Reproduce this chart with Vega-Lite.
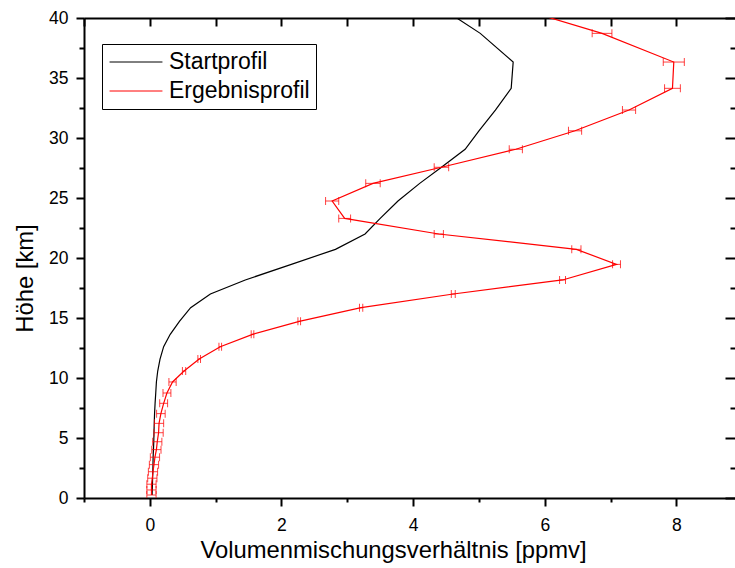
{
  "$schema": "https://vega.github.io/schema/vega-lite/v6.json",
  "width": 651,
  "height": 480,
  "autosize": {"type": "none"},
  "padding": {"left": 84, "top": 18, "right": 0, "bottom": 70},
  "background": "white",
  "config": {
    "view": {"stroke": null},
    "font": "Liberation Sans"
  },
  "data": {
    "values": [
      {"series": "Startprofil", "h": 0.25, "v": 0.035, "err": null},
      {"series": "Startprofil", "h": 0.67, "v": 0.037, "err": null},
      {"series": "Startprofil", "h": 1.15, "v": 0.04, "err": null},
      {"series": "Startprofil", "h": 1.65, "v": 0.042, "err": null},
      {"series": "Startprofil", "h": 2.19, "v": 0.045, "err": null},
      {"series": "Startprofil", "h": 2.78, "v": 0.048, "err": null},
      {"series": "Startprofil", "h": 3.4, "v": 0.05, "err": null},
      {"series": "Startprofil", "h": 4.03, "v": 0.055, "err": null},
      {"series": "Startprofil", "h": 4.69, "v": 0.06, "err": null},
      {"series": "Startprofil", "h": 5.44, "v": 0.063, "err": null},
      {"series": "Startprofil", "h": 6.22, "v": 0.067, "err": null},
      {"series": "Startprofil", "h": 7.03, "v": 0.072, "err": null},
      {"series": "Startprofil", "h": 7.89, "v": 0.08, "err": null},
      {"series": "Startprofil", "h": 8.75, "v": 0.09, "err": null},
      {"series": "Startprofil", "h": 9.67, "v": 0.1, "err": null},
      {"series": "Startprofil", "h": 10.58, "v": 0.12, "err": null},
      {"series": "Startprofil", "h": 11.58, "v": 0.155, "err": null},
      {"series": "Startprofil", "h": 12.61, "v": 0.21, "err": null},
      {"series": "Startprofil", "h": 13.64, "v": 0.31, "err": null},
      {"series": "Startprofil", "h": 14.72, "v": 0.45, "err": null},
      {"series": "Startprofil", "h": 15.86, "v": 0.62, "err": null},
      {"series": "Startprofil", "h": 17.0, "v": 0.92, "err": null},
      {"series": "Startprofil", "h": 18.17, "v": 1.45, "err": null},
      {"series": "Startprofil", "h": 19.47, "v": 2.15, "err": null},
      {"series": "Startprofil", "h": 20.72, "v": 2.82, "err": null},
      {"series": "Startprofil", "h": 22.0, "v": 3.27, "err": null},
      {"series": "Startprofil", "h": 23.3, "v": 3.5, "err": null},
      {"series": "Startprofil", "h": 24.75, "v": 3.77, "err": null},
      {"series": "Startprofil", "h": 26.22, "v": 4.1, "err": null},
      {"series": "Startprofil", "h": 27.56, "v": 4.43, "err": null},
      {"series": "Startprofil", "h": 29.06, "v": 4.79, "err": null},
      {"series": "Startprofil", "h": 30.6, "v": 5.0, "err": null},
      {"series": "Startprofil", "h": 32.33, "v": 5.25, "err": null},
      {"series": "Startprofil", "h": 34.14, "v": 5.49, "err": null},
      {"series": "Startprofil", "h": 36.33, "v": 5.52, "err": null},
      {"series": "Startprofil", "h": 38.72, "v": 5.02, "err": null},
      {"series": "Startprofil", "h": 41.3, "v": 4.3, "err": null},
      {"series": "Ergebnisprofil", "h": 0.25, "v": 0.025, "err": 0.07},
      {"series": "Ergebnisprofil", "h": 0.67, "v": 0.025, "err": 0.07},
      {"series": "Ergebnisprofil", "h": 1.15, "v": 0.025, "err": 0.07},
      {"series": "Ergebnisprofil", "h": 1.65, "v": 0.038, "err": 0.07},
      {"series": "Ergebnisprofil", "h": 2.19, "v": 0.048, "err": 0.07},
      {"series": "Ergebnisprofil", "h": 2.78, "v": 0.063, "err": 0.07},
      {"series": "Ergebnisprofil", "h": 3.4, "v": 0.078, "err": 0.07},
      {"series": "Ergebnisprofil", "h": 4.03, "v": 0.1, "err": 0.07},
      {"series": "Ergebnisprofil", "h": 4.69, "v": 0.113, "err": 0.07},
      {"series": "Ergebnisprofil", "h": 5.44, "v": 0.133, "err": 0.07},
      {"series": "Ergebnisprofil", "h": 6.22, "v": 0.14, "err": 0.07},
      {"series": "Ergebnisprofil", "h": 7.03, "v": 0.168, "err": 0.065},
      {"series": "Ergebnisprofil", "h": 7.89, "v": 0.21, "err": 0.06},
      {"series": "Ergebnisprofil", "h": 8.75, "v": 0.26, "err": 0.06},
      {"series": "Ergebnisprofil", "h": 9.67, "v": 0.345, "err": 0.055},
      {"series": "Ergebnisprofil", "h": 10.58, "v": 0.52, "err": 0.025},
      {"series": "Ergebnisprofil", "h": 11.58, "v": 0.75, "err": 0.02},
      {"series": "Ergebnisprofil", "h": 12.61, "v": 1.07, "err": 0.02},
      {"series": "Ergebnisprofil", "h": 13.64, "v": 1.56, "err": 0.02},
      {"series": "Ergebnisprofil", "h": 14.72, "v": 2.27, "err": 0.02},
      {"series": "Ergebnisprofil", "h": 15.86, "v": 3.21, "err": 0.025},
      {"series": "Ergebnisprofil", "h": 17.0, "v": 4.61, "err": 0.03},
      {"series": "Ergebnisprofil", "h": 18.17, "v": 6.27, "err": 0.045},
      {"series": "Ergebnisprofil", "h": 19.47, "v": 7.09, "err": 0.06},
      {"series": "Ergebnisprofil", "h": 20.72, "v": 6.48, "err": 0.07},
      {"series": "Ergebnisprofil", "h": 22.0, "v": 4.39, "err": 0.07},
      {"series": "Ergebnisprofil", "h": 23.3, "v": 2.96, "err": 0.09},
      {"series": "Ergebnisprofil", "h": 24.75, "v": 2.77, "err": 0.1},
      {"series": "Ergebnisprofil", "h": 26.22, "v": 3.39, "err": 0.11},
      {"series": "Ergebnisprofil", "h": 27.56, "v": 4.43, "err": 0.11},
      {"series": "Ergebnisprofil", "h": 29.06, "v": 5.56, "err": 0.1},
      {"series": "Ergebnisprofil", "h": 30.6, "v": 6.46, "err": 0.1},
      {"series": "Ergebnisprofil", "h": 32.33, "v": 7.28, "err": 0.1},
      {"series": "Ergebnisprofil", "h": 34.14, "v": 7.94, "err": 0.12},
      {"series": "Ergebnisprofil", "h": 36.33, "v": 7.96, "err": 0.16},
      {"series": "Ergebnisprofil", "h": 38.72, "v": 6.87, "err": 0.15},
      {"series": "Ergebnisprofil", "h": 41.3, "v": 5.3, "err": null}
    ]
  },
  "resolve": {"axis": {"x": "independent", "y": "independent"}},
  "layer": [
    {
      "mark": {"type": "line", "clip": true, "strokeWidth": 1.2},
      "encoding": {
        "x": {
          "field": "v", "type": "quantitative",
          "scale": {"domain": [-1, 8.89], "nice": false, "zero": false},
          "axis": {
            "orient": "bottom",
            "values": [-1, 0, 1, 2, 3, 4, 5, 6, 7, 8],
            "labelExpr": "datum.value % 2 === 0 ? datum.label : ''",
            "tickSize": {"condition": {"test": "datum.value % 2 === 0", "value": 8}, "value": 4},
            "tickWidth": 2, "tickColor": "black",
            "domainWidth": 2, "domainColor": "black",
            "grid": false,
            "labelFont": "Liberation Sans", "labelFontSize": 17.5, "labelColor": "black",
            "labelPadding": 10,
            "labelFlush": false, "labelOverlap": false,
            "title": "Volumenmischungsverhältnis [ppmv]",
            "titleFont": "Liberation Sans", "titleFontSize": 23.8, "titleFontWeight": "normal", "titleColor": "black",
            "titleX": 309, "titleY": 59, "titleBaseline": "alphabetic", "titleAlign": "center"
          }
        },
        "y": {
          "field": "h", "type": "quantitative",
          "scale": {"domain": [0, 40], "nice": false},
          "axis": {
            "orient": "left",
            "values": [0, 2.5, 5, 7.5, 10, 12.5, 15, 17.5, 20, 22.5, 25, 27.5, 30, 32.5, 35, 37.5, 40],
            "labelExpr": "datum.value % 5 === 0 ? datum.label : ''",
            "tickSize": {"condition": {"test": "datum.value % 5 === 0", "value": 8}, "value": 5},
            "tickWidth": 2, "tickColor": "black",
            "domainWidth": 2, "domainColor": "black",
            "grid": false,
            "labelFont": "Liberation Sans", "labelFontSize": 17.5, "labelColor": "black",
            "labelPadding": 8,
            "labelFlush": false, "labelOverlap": false,
            "title": "Höhe [km]",
            "titleFont": "Liberation Sans", "titleFontSize": 23.8, "titleFontWeight": "normal", "titleColor": "black",
            "titleX": -52, "titleY": 260, "titleBaseline": "alphabetic", "titleAlign": "center", "titleAngle": 270
          }
        },
        "order": {"field": "h", "type": "quantitative"},
        "color": {
          "field": "series", "type": "nominal",
          "scale": {"domain": ["Startprofil", "Ergebnisprofil"], "range": ["#000000", "#ff0000"]},
          "legend": {
            "orient": "none", "legendX": 18, "legendY": 26,
            "title": null,
            "symbolType": "M-2.3,0H2.3", "symbolSize": 529, "symbolStrokeWidth": 1,
            "symbolOffset": 16,
            "labelFont": "Liberation Sans", "labelFontSize": 23, "labelColor": "black",
            "labelOffset": 21,
            "rowPadding": 5,
            "strokeColor": "black", "fillColor": "white", "padding": 6
          }
        }
      }
    },
    {
      "transform": [{"filter": "datum.series === 'Ergebnisprofil' && datum.err != null"}],
      "mark": {"type": "errorbar", "clip": true, "ticks": {"color": "#ff0000", "opacity": 0.75}, "rule": {"color": "#ff0000", "opacity": 0.75}, "size": 8, "thickness": 1},
      "encoding": {
        "x": {"field": "v", "type": "quantitative", "scale": {"domain": [-1, 8.89], "nice": false, "zero": false}, "axis": null},
        "xError": {"field": "err"},
        "y": {"field": "h", "type": "quantitative", "scale": {"domain": [0, 40], "nice": false}, "axis": null}
      }
    },
    {
      "mark": {"type": "point", "opacity": 0, "clip": true},
      "encoding": {
        "x": {
          "field": "v", "type": "quantitative",
          "scale": {"domain": [-1, 8.89], "nice": false, "zero": false},
          "axis": {
            "orient": "top", "values": [-1, 0, 1, 2, 3, 4, 5, 6, 7, 8],
            "labels": false, "title": null, "grid": false,
            "tickSize": -8, "tickWidth": 2, "tickColor": "black",
            "domainWidth": 2, "domainColor": "black"
          }
        },
        "y": {
          "field": "h", "type": "quantitative",
          "scale": {"domain": [0, 40], "nice": false},
          "axis": {
            "orient": "right",
            "values": [0, 2.5, 5, 7.5, 10, 12.5, 15, 17.5, 20, 22.5, 25, 27.5, 30, 32.5, 35, 37.5, 40],
            "labels": false, "title": null, "grid": false, "domain": false,
            "tickSize": {"condition": {"test": "datum.value % 5 === 0", "value": -10}, "value": -5},
            "tickWidth": 2, "tickColor": "black"
          }
        }
      }
    }
  ]
}
